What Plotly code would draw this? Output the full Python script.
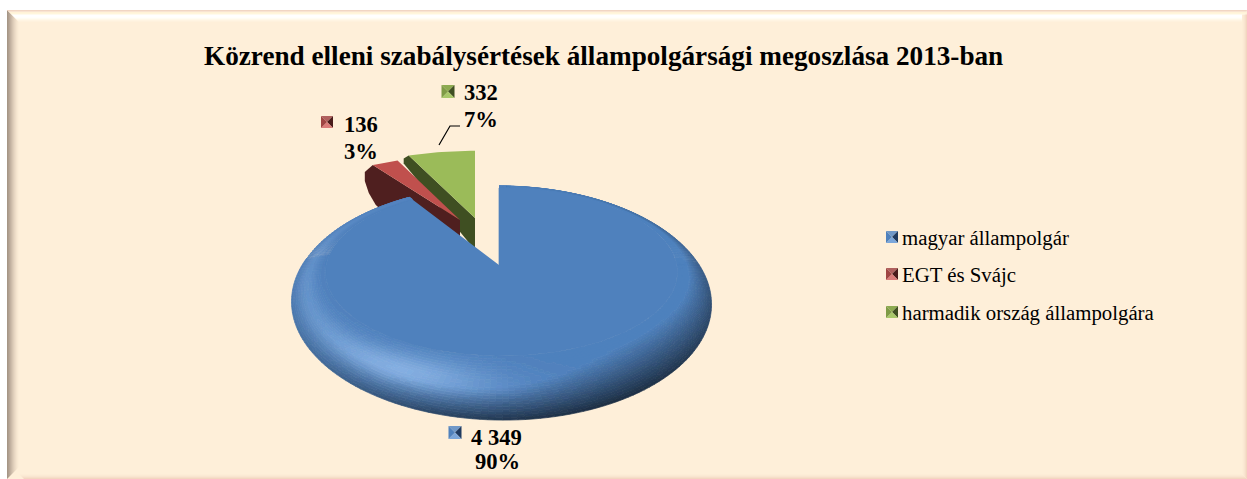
import math
import plotly.graph_objects as go

TITLE = "Közrend elleni szabálysértések állampolgársági megoszlása 2013-ban"
categories = ["magyar állampolgár", "EGT és Svájc", "harmadik ország állampolgára"]
values = [4349, 136, 332]
value_labels = ["4 349", "136", "332"]
percent_labels = ["90%", "3%", "7%"]

BG = "#FEEFD9"
FONT = "Liberation Serif"
TOP = {"blue": (0x4F, 0x81, 0xBD)}

total = sum(values)
sweeps = [v / total * 360 for v in values]
blue_end = sweeps[0]
red_end = blue_end + sweeps[1]
green_end = red_end + sweeps[2]

K, RX, RY = 0.325, 198.6, 104.7
APEX = (499.0, 265.0)


def rim(theta, ax=APEX[0], ay=APEX[1], sx=1.0, sy=1.0, lean=1.7):
    a = math.radians(theta)
    u, v = math.sin(a), math.cos(a)
    w = 1 + K * v
    return (ax + sx * (RX * u + lean * (1 - v)) / w, ay - sy * RY * v / w)


INNER = (501.5, 272.0, 176.0, 84.0)


def inner_hit(o):
    dx, dy = o[0] - APEX[0], o[1] - APEX[1]
    fx, fy = (APEX[0] - INNER[0]) / INNER[2], (APEX[1] - INNER[1]) / INNER[3]
    gx, gy = dx / INNER[2], dy / INNER[3]
    a, b, c = gx * gx + gy * gy, 2 * (fx * gx + fy * gy), fx * fx + fy * fy - 1
    s = (-b + math.sqrt(b * b - 4 * a * c)) / (2 * a)
    return (APEX[0] + s * dx, APEX[1] + s * dy)


def lobe(phi, c, w):
    d = (phi - c + 180) % 360 - 180
    return math.exp(-((d / w) ** 2))


def shade(t, phi):
    base = TOP["blue"]
    tw = 0.42 + 0.4 * lobe(phi, 30, 50)
    D = 0.65 * lobe(phi, 60, 85) * max(0.0, 1 - t / tw) ** 1.1
    tc = 0.36 + 0.2 * lobe(phi, 110, 50)
    B = (0.5 * lobe(phi, 125, 32) + 0.2 * lobe(phi, 185, 45)) * math.exp(-(((t - tc) / 0.3) ** 2))
    hi = (0xB0, 0xD4, 0xFF)
    c = [base[i] + (hi[i] - base[i]) * B for i in range(3)]
    c = [x * (1 - D) for x in c]
    return "#%02x%02x%02x" % tuple(min(255, int(round(x / 3) * 3)) for x in c)


traces = []


def fill_trace(pts, color, width=0.0):
    traces.append(go.Scatter(
        x=[p[0] if p else None for p in pts],
        y=[p[1] if p else None for p in pts],
        mode="lines", fill="toself", fillcolor=color,
        line=dict(color=color, width=width), hoverinfo="skip", showlegend=False))


def arc(start, end, n, **kw):
    return [rim(start + (end - start) * i / n, **kw) for i in range(n + 1)]


# third-country slice (exploded)
G = dict(ax=475.0, ay=218.0, sx=1.03, sy=0.85, lean=0)
gp = rim(red_end, **G)
fill_trace([gp, (G["ax"], G["ay"]), (G["ax"], G["ay"] + 32), (gp[0] - 5, gp[1] + 8), (gp[0] - 5, gp[1] + 3)], "#3F4F22")
fill_trace([(G["ax"], G["ay"])] + arc(red_end, green_end, 16, **G), "#9BBB59")

# EEA slice (exploded)
R = dict(ax=460.0, ay=220.0, sx=0.97, sy=0.81, lean=0)
rp = rim(blue_end, **R)
fill_trace([rp, (R["ax"], R["ay"]), (R["ax"], R["ay"] + 18), (rp[0] + 12, rp[1] + 48),
            (rp[0] + 3, rp[1] + 40), (rp[0] - 4, rp[1] + 28), (rp[0] - 8, rp[1] + 16), (rp[0] - 8, rp[1] + 7)], "#4F1F1F")
fill_trace([(R["ax"], R["ay"])] + arc(blue_end, red_end, 8, **R), "#C0504D")

# Hungarian slice: flat face and shaded rim bands
N_SEG, N_BAND = 220, 24
buckets = {}
for i in range(N_SEG):
    a0 = blue_end * i / N_SEG
    a1 = blue_end * (i + 1) / N_SEG
    o0, o1 = rim(a0), rim(a1)
    i0, i1 = inner_hit(o0), inner_hit(o1)
    mx, my = (o0[0] + o1[0]) / 2, (o0[1] + o1[1]) / 2
    phi = math.degrees(math.atan2((my - 303) / 117, (mx - 501.5) / 210.5)) % 360
    for j in range(N_BAND):
        t0, t1 = j / N_BAND, (j + 1) / N_BAND
        q = [(o0[0] + (i0[0] - o0[0]) * t0, o0[1] + (i0[1] - o0[1]) * t0),
             (o1[0] + (i1[0] - o1[0]) * t0, o1[1] + (i1[1] - o1[1]) * t0),
             (o1[0] + (i1[0] - o1[0]) * t1, o1[1] + (i1[1] - o1[1]) * t1),
             (o0[0] + (i0[0] - o0[0]) * t1, o0[1] + (i0[1] - o0[1]) * t1)]
        c = shade((t0 + t1) / 2, phi)
        buckets.setdefault(c, []).extend(q + [q[0], None])
for c, pts in buckets.items():
    fill_trace(pts, c, 0.7)
fill_trace([APEX] + [inner_hit(rim(blue_end * i / 200)) for i in range(201)], "#4F81BD", 0.7)

# leader line for the third-country label
traces.append(go.Scatter(x=[439, 450, 460], y=[145, 126, 126], mode="lines",
                         line=dict(color="#000000", width=1.2), hoverinfo="skip", showlegend=False))


def swatch(cx, cy, s, cols):
    h = s / 2
    c = (cx, cy)
    tl, tr, br, bl = (cx - h, cy - h), (cx + h, cy - h), (cx + h, cy + h), (cx - h, cy + h)
    fill_trace([tl, tr, c], cols[0])
    fill_trace([tr, br, c], cols[1])
    fill_trace([br, bl, c], cols[2])
    fill_trace([bl, tl, c], cols[3])


SW = [("#7098C8", "#1F3A60", "#7BA6DA", "#4F81BD"),
      ("#B0605E", "#4A1C1B", "#DB7C79", "#A04543"),
      ("#8DAA50", "#3F4F22", "#A9C86A", "#7F9B46")]
for (cx, cy, s), cols in zip([(455, 432.5, 13), (327, 122, 12), (448, 91.5, 13)], SW):
    swatch(cx, cy, s, cols)
for cy, cols in zip([237, 274, 312], SW):
    swatch(892, cy, 12, cols)

fig = go.Figure(traces)

# bevelled frame
L, T, Rt, Bt = 7, 10, 1247, 479
shapes = [dict(type="rect", x0=L, x1=Rt, y0=T, y1=Bt, fillcolor=BG, line_width=0, layer="below")]


def band(pts, col):
    d = "M" + " L".join(f"{x},{y}" for x, y in pts) + " Z"
    shapes.append(dict(type="path", path=d, fillcolor=col, line_width=0, layer="below"))


top_cols = ["#F1D6C4", "#F8E4D2", "#FFF3D8", "#FFF6DC", "#FFFBEE", "#FFFFFF", "#FFFFFF", "#FFFFFB", "#FFFDF3", "#FFF9EA", "#FFF4E2", "#FEF1DD"]
left_cols = ["#A69686", "#AE9E8E", "#B8A797", "#C2B1A0", "#CCBBA9", "#D6C5B2", "#DFCEBA", "#E7D6C2", "#EEDDC8", "#F4E4CE", "#F9E9D3", "#FCEDD7"]
for i in range(12):
    band([(L + i, T + i), (L + i + 1, T + i + 1), (L + i + 1, Bt - i - 1), (L + i, Bt - i)], left_cols[i])
    band([(L + i, T + i), (Rt - i * 0.35, T + i), (Rt - (i + 1) * 0.35, T + i + 1), (L + i + 1, T + i + 1)], top_cols[i])
for i, col in enumerate(["#F3D6C0", "#F6DEC9", "#F9E5D0", "#FBEAD4", "#FDEDD7"]):
    band([(L + 17 - i, Bt - i), (Rt - i, Bt - i), (Rt - i - 1, Bt - i - 1), (L + 16 - i, Bt - i - 1)], col)
    band([(Rt - i, T + 4), (Rt - i, Bt - i), (Rt - i - 1, Bt - i - 1), (Rt - i - 1, T + 5)], col)

ann = [dict(x=603, y=56, text=f"<b>{TITLE}</b>", xanchor="center", size=27.2)]
for x, y, t, anchor in [(469, 437, value_labels[0], "left"), (497, 461, percent_labels[0], "center"),
                        (342, 124, value_labels[1], "left"), (342, 151, percent_labels[1], "left"),
                        (462, 92, value_labels[2], "left"), (462, 119, percent_labels[2], "left")]:
    ann.append(dict(x=x, y=y, text=f"<b>{t}</b>", xanchor=anchor, size=22.6))
for y, t in zip([238, 275, 313], categories):
    ann.append(dict(x=900, y=y, text=t, xanchor="left", size=20.8))

fig.update_layout(
    width=1247, height=479, autosize=False,
    margin=dict(l=0, r=0, t=0, b=0),
    paper_bgcolor="#FFFFFF", plot_bgcolor="rgba(0,0,0,0)",
    xaxis=dict(range=[0, 1247], visible=False, fixedrange=True),
    yaxis=dict(range=[479, 0], visible=False, fixedrange=True),
    shapes=shapes, showlegend=False,
    annotations=[dict(x=a["x"], y=a["y"], xref="x", yref="y", text=a["text"], showarrow=False,
                      xanchor=a["xanchor"], yanchor="middle",
                      font=dict(family=FONT, size=a["size"], color="#000000")) for a in ann],
)
fig.write_html("out.html", config={"displayModeBar": False},
               post_script="document.body.style.margin='0';document.body.style.overflow='hidden';")
